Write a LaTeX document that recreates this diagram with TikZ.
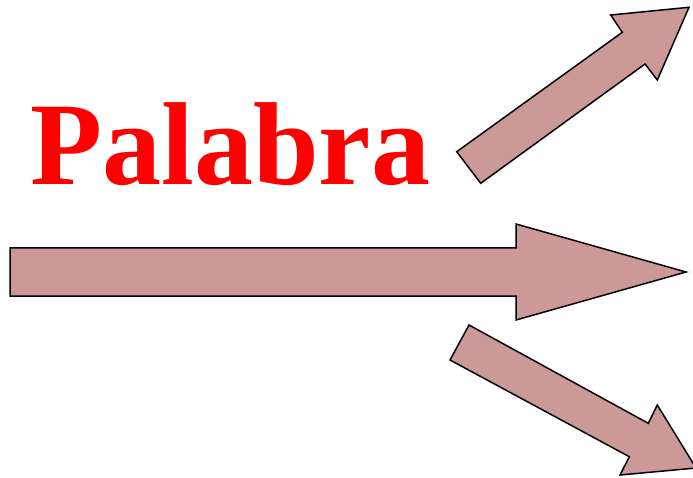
\documentclass[tikz,border=0pt]{standalone}
\usepackage{fontspec}
\setmainfont{Liberation Serif}
\definecolor{arrowfill}{RGB}{204,153,153}
\definecolor{wordred}{RGB}{255,0,0}
\begin{document}
\begin{tikzpicture}[x=1pt,y=-1pt,
  bigarrow/.style={draw=black,fill=arrowfill,line width=1.5pt,line join=miter},
  word/.style={text=wordred,font=\fontsize{118}{122}\selectfont\bfseries,inner sep=0pt,anchor=base west}]
\useasboundingbox (0,0) rectangle (693,478);
\begin{scope}
\clip (0,0) rectangle (693,478);
% upper arrow
\draw[bigarrow] (456.7,151.7) -- (622.3,32.3) -- (610.7,15) -- (689,7.3) -- (657.3,80) -- (645,64) -- (480.7,183.3) -- cycle;
% middle arrow
\draw[bigarrow] (10,248) -- (516,248) -- (516,224) -- (686,272) -- (516,320) -- (516,296) -- (10,296) -- cycle;
% lower arrow
\draw[bigarrow] (469,325) -- (648.3,423.3) -- (657.3,405) -- (696,468) -- (620,475) -- (629.3,456.7) -- (450,360) -- cycle;
\end{scope}
\node[word] (palabra) at (30,185) {Palabra};
\end{tikzpicture}
\end{document}
